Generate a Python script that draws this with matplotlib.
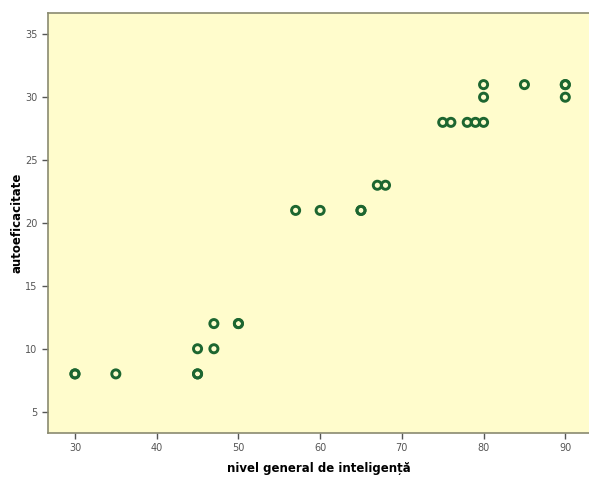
import matplotlib
matplotlib.use("Agg")
import matplotlib.pyplot as plt

iq = [30, 30, 35, 45, 45, 45, 47, 47, 50, 50, 57, 60, 65, 65, 67, 68,
      75, 76, 78, 79, 80, 80, 80, 85, 90, 90, 90]
self_eff = [8, 8, 8, 8, 8, 10, 10, 12, 12, 12, 21, 21, 21, 21, 23, 23,
            28, 28, 28, 28, 28, 30, 31, 31, 31, 31, 30]
xticks = [30, 40, 50, 60, 70, 80, 90]
yticks = [5, 10, 15, 20, 25, 30, 35]

fig = plt.figure(figsize=(5.89, 4.79), dpi=100)
ax = fig.add_axes([0.0815, 0.096, 0.9185, 0.877])
ax.set_facecolor("#fffccc")
ax.scatter(iq, self_eff, s=34, facecolors="none", edgecolors="#1d6630",
           linewidths=2.1, zorder=3)
ax.set_xlim(26.7, 92.9)
ax.set_ylim(3.3, 36.7)
ax.set_xticks(xticks)
ax.set_yticks(yticks)
ax.tick_params(labelsize=7, colors="#555555", length=4, width=1)
for s in ["left", "bottom", "top"]:
    ax.spines[s].set_color("#8a8a70")
    ax.spines[s].set_linewidth(1.2)
ax.spines["right"].set_visible(False)
ax.set_xlabel("nivel general de inteligență", fontsize=8.5, fontweight="bold", labelpad=6)
ax.set_ylabel("autoeficacitate", fontsize=8.5, fontweight="bold", labelpad=1)
fig.savefig("out.png", dpi=100)
